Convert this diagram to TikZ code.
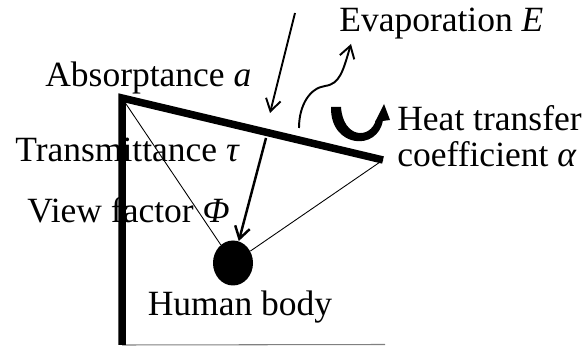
\documentclass[tikz,border=0pt]{standalone}
\usepackage{fontspec}
\setmainfont{Liberation Serif}
\usetikzlibrary{arrows.meta,shapes.geometric}

\begin{document}
\begin{tikzpicture}[font=\fontsize{20.2}{21}\selectfont,
  wall/.style={line width=1.5mm,line join=miter},
  ray/.style={line width=1.1pt,-{Straight Barb[length=2.4mm,width=3mm]}},
  sight/.style={line width=0.5pt},
  lbl/.style={inner sep=0pt,anchor=base west}]

\useasboundingbox (0,0) rectangle (11.68,6.98);

% ---------- shelter ----------
\coordinate (base) at (2.44,0.08);
\coordinate (corner) at (2.44,5.02);
\coordinate (eave) at (7.66,3.78);
\coordinate (groundend) at (7.70,0.09);
\draw[gray,line width=0.6pt] (base) -- (groundend);
\draw[wall] (base) -- (corner) -- (eave);

% ---------- human body ----------
\node[ellipse,fill=black,inner sep=0pt,minimum width=0.8cm,minimum height=0.9cm] (body) at (4.66,1.72) {};
\draw[sight] (corner) -- (body);
\draw[sight] (eave) -- (body);

% ---------- fluxes ----------
\coordinate (sun) at (5.90,6.72);
\coordinate (hit) at (5.40,4.72);
\coordinate (pass) at (5.32,4.22);
\draw[ray] (sun) -- (hit);
\draw[ray,line width=1.4pt] (pass) -- (body);

\coordinate (vapour) at (5.98,4.42);
\coordinate (vapourtip) at (7.02,6.10);
\draw[ray] (vapour) .. controls (5.98,4.88) and (6.20,5.22) .. (6.50,5.26)
  .. controls (6.80,5.30) and (6.86,5.56) .. (vapourtip);

% convection arrow
\fill (6.62,4.84) .. controls (6.60,4.02) and (7.56,3.94) .. (7.66,4.58)
  -- (7.52,4.58) .. controls (7.40,4.18) and (6.86,4.22) .. (6.82,4.84) -- cycle;
\fill (7.50,4.54) -- (7.80,4.58) -- (7.68,4.90) -- cycle;

% ---------- labels ----------
\node[lbl] (absorb) at (0.90,5.24) {Absorptance \textit{a}};
\node[lbl] (transmit) at (0.30,3.74) {Transmittance \textit{τ}};
\node[lbl] (view) at (0.54,2.52) {View factor \textit{Φ}};
\node[lbl] (evap) at (6.78,6.34) {Evaporation \textit{E}};
\node[lbl,align=left] (heat) at (7.94,3.64) {Heat transfer\\coefficient \textit{α}};
\node[lbl,anchor=base] (bodylbl) at (4.80,0.66) {Human body};
\end{tikzpicture}
\end{document}
